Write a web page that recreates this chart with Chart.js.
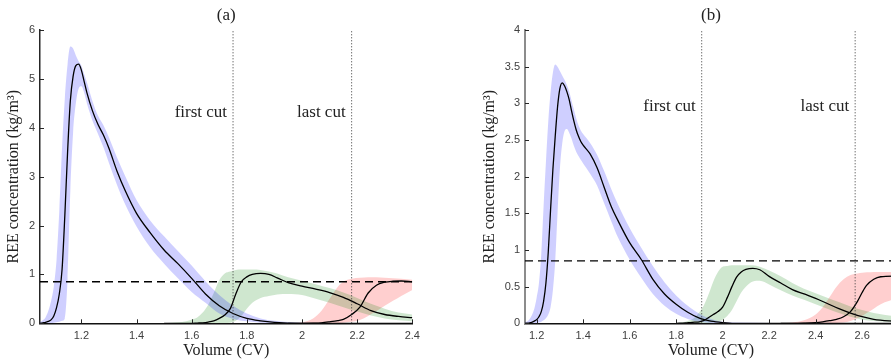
<!DOCTYPE html>
<html>
<head>
<meta charset="utf-8">
<script src="https://cdn.jsdelivr.net/npm/chart.js@4.4.1/dist/chart.umd.min.js"></script>
<style>
  html, body { margin: 0; padding: 0; background: #fff; overflow: hidden; }
  #wrap { position: relative; width: 891px; height: 360px; overflow: hidden; }
  canvas { position: absolute; top: 0; }
  #chartA { left: 0; }
  #chartB { left: 440px; }
</style>
</head>
<body>
<div id="wrap">
  <canvas id="chartA" width="440" height="360"></canvas>
  <canvas id="chartB" width="460" height="360"></canvas>
</div>
<script>
// ---- panel (a) ----
const xBlueA = [1.05,1.06,1.07,1.08,1.09,1.10,1.11,1.12,1.13,1.14,1.15,1.16,1.17,1.18,1.19,1.20,1.21,1.22,1.24,1.26,1.28,1.30,1.33,1.36,1.40,1.45,1.50,1.55,1.60,1.65,1.70,1.75,1.80,1.85,1.90,2.00,2.10,2.40];
const blueMeanA = [0,0.01,0.02,0.04,0.07,0.15,0.32,0.6,1.1,2.2,3.5,4.55,5.05,5.27,5.3,5.18,4.95,4.72,4.35,4.07,3.85,3.58,3.1,2.7,2.25,1.85,1.5,1.22,0.92,0.6,0.36,0.2,0.1,0.05,0.02,0,0,0];
const blueHiA = [0.02,0.06,0.12,0.25,0.45,0.75,1.3,2.3,3.6,4.6,5.3,5.66,5.62,5.48,5.36,5.27,5.1,4.93,4.55,4.25,4.05,3.8,3.38,3.0,2.52,2.1,1.78,1.48,1.18,0.86,0.58,0.36,0.2,0.1,0.05,0.01,0,0];
const blueLoA = [0,0,0,0,0,0.01,0.02,0.03,0.05,0.1,0.9,2.7,3.9,4.5,4.8,4.85,4.72,4.5,4.15,3.88,3.6,3.28,2.82,2.42,1.98,1.55,1.22,0.92,0.64,0.42,0.2,0.09,0.04,0.01,0,0,0,0];

const xGreenA = [1.50,1.55,1.58,1.60,1.62,1.64,1.66,1.68,1.70,1.72,1.74,1.76,1.78,1.80,1.82,1.85,1.88,1.91,1.95,2.00,2.05,2.10,2.15,2.20,2.25,2.30,2.35,2.40];
const greenMeanA = [0,0,0,0,0.005,0.01,0.025,0.05,0.1,0.17,0.3,0.6,0.85,0.95,1.0,1.02,1.0,0.93,0.83,0.76,0.7,0.63,0.53,0.4,0.26,0.18,0.14,0.115];
const greenHiA = [0,0.02,0.04,0.08,0.12,0.22,0.38,0.62,0.88,1.02,1.06,1.09,1.1,1.1,1.1,1.09,1.06,1.02,0.94,0.87,0.8,0.72,0.63,0.52,0.4,0.3,0.22,0.18];
const greenLoA = [0,0,0,0,0,0,0,0,0,0.005,0.01,0.05,0.15,0.3,0.42,0.52,0.56,0.59,0.6,0.58,0.5,0.42,0.33,0.24,0.16,0.1,0.06,0.04];

const xRedA = [1.95,2.00,2.04,2.07,2.10,2.13,2.15,2.18,2.21,2.24,2.27,2.30,2.33,2.36,2.40];
const redMeanA = [0,0,0.003,0.01,0.03,0.055,0.08,0.18,0.33,0.62,0.78,0.84,0.86,0.865,0.85];
const redHiA = [0,0.02,0.1,0.25,0.5,0.75,0.85,0.91,0.93,0.94,0.94,0.93,0.92,0.91,0.89];
const redLoA = [0,0,0,0,0,0.005,0.01,0.03,0.07,0.15,0.25,0.36,0.46,0.56,0.68];

const cutsA = [1.75, 2.18];
const xTicksA = [1.2, 1.4, 1.6, 1.8, 2, 2.2, 2.4];
const yTicksA = [0, 1, 2, 3, 4, 5, 6];

// ---- panel (b) ----
const xBlueB = [1.15,1.17,1.19,1.20,1.21,1.22,1.23,1.24,1.25,1.26,1.27,1.28,1.29,1.30,1.31,1.32,1.33,1.34,1.35,1.36,1.37,1.38,1.39,1.40,1.43,1.46,1.49,1.52,1.55,1.60,1.65,1.70,1.75,1.80,1.85,1.90,1.95,2.00,2.05,2.75];
const blueMeanB = [0,0.005,0.03,0.05,0.09,0.16,0.3,0.55,0.97,1.55,2.1,2.55,2.95,3.2,3.28,3.24,3.16,3.05,2.9,2.76,2.64,2.55,2.48,2.43,2.31,2.12,1.86,1.6,1.4,1.1,0.87,0.6,0.4,0.26,0.15,0.07,0.03,0.01,0,0];
const blueHiB = [0.01,0.06,0.2,0.35,0.55,0.95,1.6,2.2,2.75,3.15,3.42,3.53,3.5,3.44,3.38,3.32,3.25,3.16,3.04,2.92,2.8,2.7,2.63,2.58,2.46,2.3,2.08,1.84,1.62,1.3,1.03,0.78,0.56,0.38,0.24,0.13,0.06,0.02,0.01,0];
const blueLoB = [0,0,0,0.005,0.01,0.02,0.04,0.07,0.12,0.22,0.45,0.85,1.5,2.1,2.45,2.62,2.65,2.6,2.52,2.42,2.34,2.28,2.23,2.18,2.04,1.88,1.64,1.4,1.17,0.87,0.62,0.4,0.24,0.13,0.06,0.02,0.005,0,0,0];

const xGreenB = [1.80,1.84,1.86,1.88,1.90,1.92,1.94,1.96,1.98,2.00,2.02,2.04,2.06,2.08,2.10,2.13,2.16,2.20,2.25,2.30,2.35,2.40,2.45,2.50,2.55,2.60,2.65,2.75];
const greenMeanB = [0,0.005,0.01,0.015,0.02,0.04,0.08,0.12,0.16,0.22,0.35,0.5,0.63,0.7,0.735,0.75,0.73,0.64,0.55,0.46,0.4,0.34,0.27,0.2,0.14,0.09,0.055,0.025];
const greenHiB = [0,0.02,0.04,0.08,0.15,0.25,0.4,0.57,0.7,0.77,0.78,0.79,0.79,0.79,0.79,0.79,0.77,0.72,0.64,0.55,0.47,0.41,0.35,0.29,0.23,0.18,0.14,0.09];
const greenLoB = [0,0,0,0,0,0,0.005,0.01,0.02,0.05,0.1,0.18,0.3,0.42,0.5,0.57,0.58,0.53,0.45,0.38,0.32,0.26,0.2,0.14,0.09,0.05,0.03,0.01];

const xRedB = [2.25,2.30,2.35,2.40,2.43,2.46,2.49,2.52,2.55,2.58,2.60,2.62,2.65,2.68,2.75];
const redMeanB = [0,0,0.003,0.01,0.02,0.035,0.055,0.09,0.16,0.3,0.42,0.52,0.6,0.635,0.645];
const redHiB = [0,0.01,0.04,0.12,0.22,0.36,0.5,0.6,0.66,0.68,0.69,0.695,0.7,0.7,0.7];
const redLoB = [0,0,0,0,0,0,0.005,0.01,0.03,0.07,0.1,0.14,0.2,0.26,0.34];

const cutsB = [1.91, 2.57];
const xTicksB = [1.2, 1.4, 1.6, 1.8, 2, 2.2, 2.4, 2.6];
const yTicksB = [0, 0.5, 1, 1.5, 2, 2.5, 3, 3.5, 4];

const threshold = 0.85;

const BLUE = 'rgba(0,0,255,0.19)';
const GREEN = 'rgba(0,128,0,0.19)';
const RED = 'rgba(255,0,0,0.19)';

Chart.defaults.font.family = '"Liberation Sans", Arial, sans-serif';

function pts(xs, ys) {
  return xs.map((x, i) => ({ x: x, y: ys[i] }));
}

function band(xs, hi, lo, color) {
  return [
    { data: pts(xs, hi), borderWidth: 0, pointRadius: 0, backgroundColor: color,
      fill: '+1', cubicInterpolationMode: 'monotone', order: 3 },
    { data: pts(xs, lo), borderWidth: 0, pointRadius: 0, fill: false,
      cubicInterpolationMode: 'monotone', order: 3 }
  ];
}

function mean(xs, ys) {
  return { data: pts(xs, ys), borderColor: '#000', borderWidth: 1.3, pointRadius: 0,
    fill: false, cubicInterpolationMode: 'monotone', order: 1 };
}

// labels, inward tick marks
const panelText = {
  id: 'panelText',
  afterDraw(chart, args, opts) {
    const { ctx, chartArea: ca, scales: { x, y } } = chart;
    ctx.save();
    ctx.strokeStyle = '#262626';
    ctx.lineWidth = 1;
    x.ticks.forEach(t => {
      const px = Math.round(x.getPixelForValue(t.value)) + 0.5;
      ctx.beginPath(); ctx.moveTo(px, ca.bottom); ctx.lineTo(px, ca.bottom - 4); ctx.stroke();
    });
    y.ticks.forEach(t => {
      const py = Math.round(y.getPixelForValue(t.value)) + 0.5;
      ctx.beginPath(); ctx.moveTo(ca.left, py); ctx.lineTo(ca.left + 4, py); ctx.stroke();
    });

    ctx.fillStyle = '#222';
    ctx.font = '17px "Liberation Serif", serif';
    ctx.textAlign = 'center';
    ctx.textBaseline = 'middle';
    ctx.fillText(opts.title, (ca.left + ca.right) / 2, 16);

    ctx.textAlign = 'right';
    ctx.textBaseline = 'alphabetic';
    const ty = y.getPixelForValue(opts.textY);
    ctx.fillText('first cut', x.getPixelForValue(opts.cuts[0]) - 6, ty);
    ctx.fillText('last cut', x.getPixelForValue(opts.cuts[1]) - 6, ty);

    ctx.font = '16px "Liberation Serif", serif';
    ctx.textAlign = 'center';
    ctx.textBaseline = 'middle';
    ctx.fillText('Volume (CV)', (ca.left + ca.right) / 2, 351);
    ctx.translate(opts.yLabelX, (ca.top + ca.bottom) / 2);
    ctx.rotate(-Math.PI / 2);
    ctx.fillText('REE concentration (kg/m\u00B3)', 0, 0);
    ctx.restore();
  }
};

function makeChart(id, p) {
  const datasets = [].concat(
    band(p.xBlue, p.blueHi, p.blueLo, BLUE),
    band(p.xGreen, p.greenHi, p.greenLo, GREEN),
    band(p.xRed, p.redHi, p.redLo, RED),
    [mean(p.xBlue, p.blueMean), mean(p.xGreen, p.greenMean), mean(p.xRed, p.redMean)],
    [{ data: [{ x: p.xMin, y: threshold }, { x: p.xMax, y: threshold }], borderColor: '#000',
       borderWidth: 1.3, borderDash: [8, 5], pointRadius: 0, fill: false, order: 0 }],
    p.cuts.map(c => ({ data: [{ x: c, y: 0 }, { x: c, y: p.yMax }], borderColor: '#333',
       borderWidth: 1, borderDash: [1, 2], pointRadius: 0, fill: false, order: 0 }))
  );
  return new Chart(document.getElementById(id), {
    type: 'line',
    data: { datasets: datasets },
    plugins: [panelText],
    options: {
      responsive: false,
      animation: false,
      devicePixelRatio: 1,
      layout: { padding: p.padding },
      plugins: {
        legend: { display: false },
        tooltip: { enabled: false },
        panelText: { title: p.title, cuts: p.cuts, textY: p.textY, yLabelX: p.yLabelX }
      },
      scales: {
        x: {
          type: 'linear', min: p.xMin, max: p.xMax,
          grid: { display: false, drawTicks: false },
          border: { display: true, color: '#111', width: 1.5 },
          afterBuildTicks: s => { s.ticks = p.xTicks.map(v => ({ value: v })); },
          afterFit: s => { s.height = p.xAxisH; },
          ticks: { padding: 6, color: '#404040', font: { size: 11 }, callback: v => String(v) }
        },
        y: {
          min: 0, max: p.yMax,
          grid: { display: false, drawTicks: false },
          border: { display: true, color: p.yAxisColor, width: p.yAxisWidth },
          afterBuildTicks: s => { s.ticks = p.yTicks.map(v => ({ value: v })); },
          afterFit: s => { s.width = p.yAxisW; },
          ticks: { padding: 5, color: '#404040', font: { size: 11 }, callback: v => String(v) }
        }
      }
    }
  });
}

makeChart('chartA', {
  title: '(a)', xMin: 1.05, xMax: 2.4, yMax: 6,
  xBlue: xBlueA, blueMean: blueMeanA, blueHi: blueHiA, blueLo: blueLoA,
  xGreen: xGreenA, greenMean: greenMeanA, greenHi: greenHiA, greenLo: greenLoA,
  xRed: xRedA, redMean: redMeanA, redHi: redHiA, redLo: redLoA,
  cuts: cutsA, xTicks: xTicksA, yTicks: yTicksA, textY: 4.22,
  padding: { left: 0, right: 27.7, top: 30, bottom: 0 },
  yAxisW: 40, xAxisH: 36.7, yLabelX: 14, yAxisColor: '#262626', yAxisWidth: 1.5
});

makeChart('chartB', {
  title: '(b)', xMin: 1.15, xMax: 2.75, yMax: 4,
  xBlue: xBlueB, blueMean: blueMeanB, blueHi: blueHiB, blueLo: blueLoB,
  xGreen: xGreenB, greenMean: greenMeanB, greenHi: greenHiB, greenLo: greenLoB,
  xRed: xRedB, redMean: redMeanB, redHi: redHiB, redLo: redLoB,
  cuts: cutsB, xTicks: xTicksB, yTicks: yTicksB, textY: 2.9,
  padding: { left: 0, right: 3, top: 30, bottom: 0 },
  yAxisW: 85, xAxisH: 36.7, yLabelX: 50, yAxisColor: '#8c8c8c', yAxisWidth: 2
});
</script>
</body>
</html>
